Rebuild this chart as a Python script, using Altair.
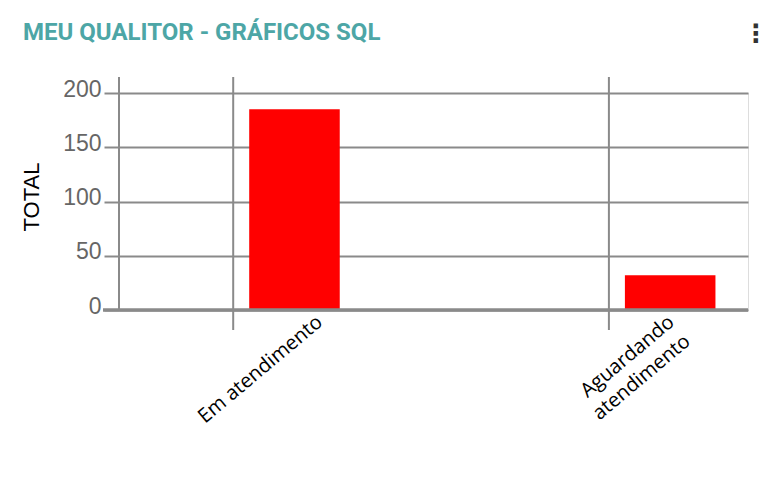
import altair as alt
import pandas as pd

categories = ["Em atendimento", "Aguardando atendimento"]
label_lines = [["Em atendimento"], ["Aguardando", "atendimento"]]
totals = [185, 32]
y_ticks = [0, 50, 100, 150, 200]
title_text = "MEU QUALITOR - GRÁFICOS SQL"
y_title = "TOTAL"
menu_icon = "⋮"

W, H = 629, 217
GRAY = "#8a8a8a"

df = pd.DataFrame({
    "cat": categories,
    "total": totals,
    "label": ["\n".join(l) for l in label_lines],
})

xscale = alt.Scale(domain=categories, paddingInner=0.759, paddingOuter=0.2166, align=0.8)
x_enc = alt.X("cat:N", scale=xscale, axis=None, sort=categories)
yscale = alt.Scale(domain=[0, 200])

base = alt.Chart(df)

bars = base.mark_bar(color="#ff0000").encode(
    x=x_enc,
    y=alt.Y(
        "total:Q",
        scale=yscale,
        axis=alt.Axis(
            values=y_ticks, title=None, grid=True, gridColor=GRAY, gridWidth=2,
            tickColor=GRAY, tickWidth=2, tickSize=15, domain=False,
            labelFont="Liberation Sans", labelFontSize=23, labelColor="#666666",
            labelPadding=3, labelOffset=-4,
        ),
    ),
)

vrules = base.mark_rule(color=GRAY, strokeWidth=2, xOffset=-16).encode(
    x=alt.X("cat:N", scale=xscale, axis=None, sort=categories, bandPosition=0),
    y=alt.value(-16),
    y2=alt.value(H + 20),
)

left_rule = base.mark_rule(color=GRAY, strokeWidth=2).encode(
    x=alt.value(0), y=alt.value(-16), y2=alt.value(H)
)

zero_rule = base.mark_rule(color=GRAY, strokeWidth=3).encode(
    x=alt.value(-16), x2=alt.value(W), y=alt.value(H)
)

def cat_label(i, off):
    return base.transform_filter(alt.datum.cat == categories[i]).mark_text(
        angle=320, align="right", baseline="top", lineBreak="\n", lineHeight=25,
        font="Open Sans", fontSize=20, color="black", xOffset=off,
    ).encode(x=x_enc, y=alt.value(H + 2), text="label:N")

lab1 = cat_label(0, 19)
lab2 = cat_label(1, -5)

title = alt.Chart(pd.DataFrame({"t": [title_text]})).mark_text(
    align="left", baseline="middle", font="Roboto", fontWeight="bold",
    fontSize=24, color="#4da6a6",
).encode(x=alt.value(-96), y=alt.value(-60), text="t:N")

menu = alt.Chart(pd.DataFrame({"t": [menu_icon]})).mark_text(
    align="center", baseline="middle", font="DejaVu Sans", fontWeight="bold",
    fontSize=25, color="#333333",
).encode(x=alt.value(637), y=alt.value(-59), text="t:N")

ytitle = alt.Chart(pd.DataFrame({"t": [y_title]})).mark_text(
    align="center", baseline="middle", font="Liberation Sans",
    fontSize=22, color="black", angle=270,
).encode(x=alt.value(-87), y=alt.value(104), text="t:N")

chart = alt.layer(
    left_rule, vrules, bars, zero_rule, lab1, lab2, title, menu, ytitle
).properties(
    width=W, height=H,
    autosize=alt.AutoSizeParams(type="none"),
    padding={"left": 111, "top": 85, "right": 20, "bottom": 155},
).configure_view(stroke=None).configure(background="white")

chart.save("out.html", embed_options={"renderer": "svg", "actions": False})
